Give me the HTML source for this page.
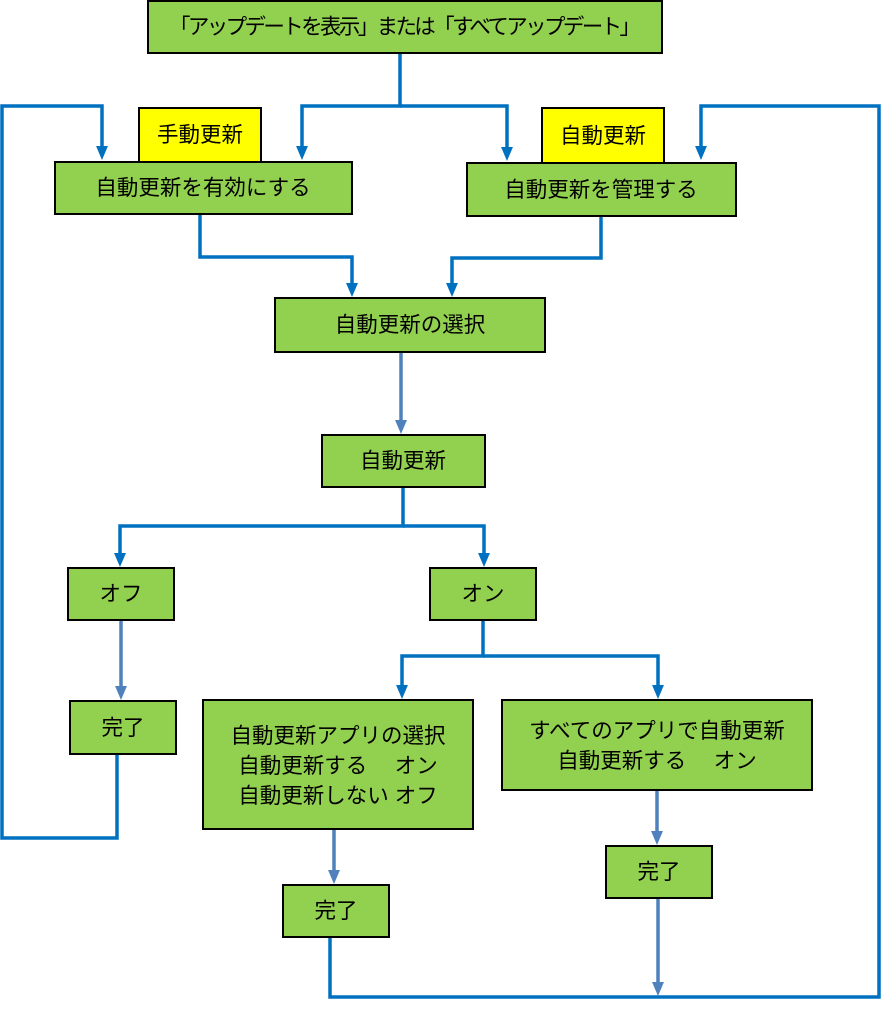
<!DOCTYPE html>
<html><head><meta charset="utf-8"><style>
html,body{margin:0;padding:0;background:#fff}
svg text{font-family:"Liberation Sans","Noto Sans CJK JP",sans-serif;font-size:21.5px;fill:#000;text-anchor:middle;dominant-baseline:central}
</style></head><body>
<svg width="882" height="1010" viewBox="0 0 882 1010" xmlns="http://www.w3.org/2000/svg">
<defs>
<marker id="a" markerWidth="4" markerHeight="4" refX="2" refY="2" orient="auto" markerUnits="strokeWidth"><path d="M0,0.3 L4,2 L0,3.7 z" fill="#0070c0"/></marker>
<marker id="b" markerWidth="4" markerHeight="4" refX="2" refY="2" orient="auto" markerUnits="strokeWidth"><path d="M0,0.3 L4,2 L0,3.7 z" fill="#4f81bd"/></marker>
</defs>
<g fill="none" stroke="#0070c0" stroke-width="3.5">
<polyline points="400,53 400,106 302,106 302,153" marker-end="url(#a)"/>
<polyline points="400,106 507,106 507,154" marker-end="url(#a)"/>
<polyline points="117,754 117,838 2,838 2,106 102,106 102,153" marker-end="url(#a)"/>
<polyline points="330,937 330,997 879,997 879,106 701,106 701,153" marker-end="url(#a)"/>
<polyline points="200,214 200,257 352,257 352,290" marker-end="url(#a)"/>
<polyline points="601,216 601,258 452,258 452,290" marker-end="url(#a)"/>
<polyline points="403,487 403,526 120,526 120,560" marker-end="url(#a)"/>
<polyline points="403,526 484,526 484,560" marker-end="url(#a)"/>
<polyline points="483,620 483,656 402,656 402,692" marker-end="url(#a)"/>
<polyline points="483,656 658,656 658,692" marker-end="url(#a)"/>
</g>
<g fill="none" stroke="#4f81bd" stroke-width="3.5">
<line x1="401" y1="352" x2="401" y2="427" marker-end="url(#b)"/>
<line x1="121" y1="620" x2="121" y2="693" marker-end="url(#b)"/>
<line x1="334" y1="829" x2="334" y2="877" marker-end="url(#b)"/>
<line x1="657" y1="790" x2="657" y2="838" marker-end="url(#b)"/>
<line x1="658" y1="898" x2="658" y2="989" marker-end="url(#b)"/>
</g>
<g stroke="#000" stroke-width="2">
<rect x="148" y="1" width="514" height="52" fill="#92d050"/>
<rect x="139" y="108" width="122" height="54" fill="#ffff00"/>
<rect x="542" y="108" width="122" height="55" fill="#ffff00"/>
<rect x="55" y="162" width="297" height="52" fill="#92d050"/>
<rect x="467" y="163" width="269" height="53" fill="#92d050"/>
<rect x="275" y="298" width="270" height="54" fill="#92d050"/>
<rect x="322" y="435" width="163" height="52" fill="#92d050"/>
<rect x="68" y="568" width="106" height="52" fill="#92d050"/>
<rect x="430" y="568" width="106" height="52" fill="#92d050"/>
<rect x="70" y="701" width="106" height="53" fill="#92d050"/>
<rect x="203" y="700" width="270" height="129" fill="#92d050"/>
<rect x="502" y="700" width="310" height="90" fill="#92d050"/>
<rect x="606" y="846" width="106" height="52" fill="#92d050"/>
<rect x="283" y="885" width="106" height="52" fill="#92d050"/>
</g>
<text x="405" y="27" textLength="472" lengthAdjust="spacing">「アップデートを表示」または「すべてアップデート」</text>
<text x="200" y="135">手動更新</text>
<text x="603" y="136">自動更新</text>
<text x="203" y="188">自動更新を有効にする</text>
<text x="601" y="190">自動更新を管理する</text>
<text x="410" y="325">自動更新の選択</text>
<text x="403" y="461">自動更新</text>
<text x="121" y="594">オフ</text>
<text x="483" y="594">オン</text>
<text x="123" y="728">完了</text>
<text x="338" y="736">自動更新アプリの選択</text>
<text x="338" y="766" xml:space="preserve">自動更新する　 オン</text>
<text x="338" y="796" xml:space="preserve">自動更新しない オフ</text>
<text x="657" y="731">すべてのアプリで自動更新</text>
<text x="657" y="761" xml:space="preserve">自動更新する　 オン</text>
<text x="659" y="872">完了</text>
<text x="336" y="911">完了</text>
</svg>
</body></html>
